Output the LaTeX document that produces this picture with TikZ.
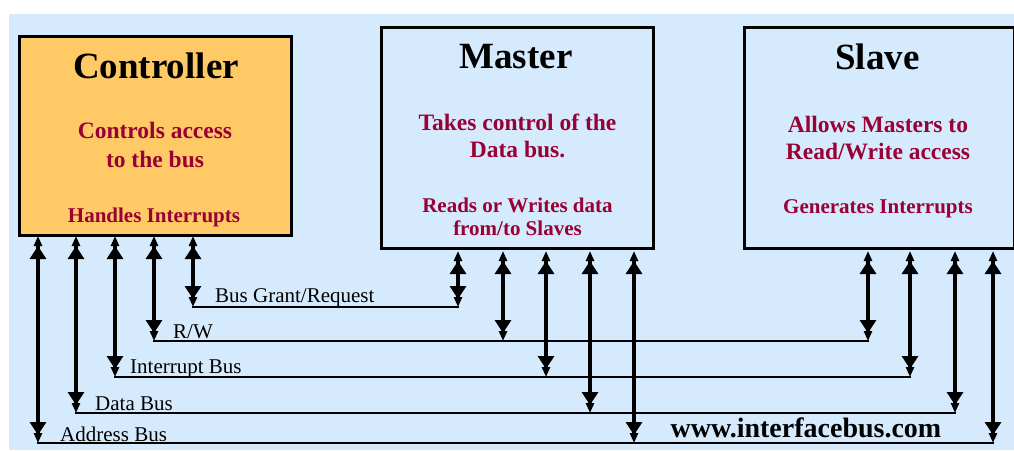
\documentclass[tikz,border=0pt]{standalone}
\usepackage{fontspec}
\setmainfont{Liberation Serif}
\usetikzlibrary{arrows.meta}

\definecolor{panel}{HTML}{D6EAFE}
\definecolor{ctrlfill}{HTML}{FFC966}
\definecolor{note}{HTML}{990033}

\tikzset{
  unitbox/.style={draw=black, line width=3pt, inner sep=0pt},
  boxtitle/.style={anchor=base, inner sep=0pt, font=\fontsize{37}{40}\selectfont\bfseries},
  roleline/.style={anchor=base, inner sep=0pt, text=note, font=\fontsize{23.5}{26}\selectfont\bfseries},
  subline/.style={anchor=base, inner sep=0pt, text=note, font=\fontsize{21}{23}\selectfont\bfseries},
  buslabel/.style={anchor=base west, inner sep=0pt, font=\fontsize{21}{23}\selectfont},
  sitelabel/.style={anchor=base, inner sep=0pt, font=\fontsize{28}{30}\selectfont\bfseries},
  % two-tier head: narrow point in front of a wide block
  tap/.style={line width=3.2pt,
    {Triangle[length=10pt,width=8pt,sep=-2pt] Triangle[length=13pt,width=16pt,sep=0pt]}-%
    {Triangle[length=13pt,width=16pt,sep=-2pt] Triangle[length=10pt,width=8pt,sep=0pt]}},
  widebus/.style={line width=2.8pt, line cap=rect},
  narrowbus/.style={line width=1.5pt, line cap=rect},
}

\begin{document}
\begin{tikzpicture}[x=1pt,y=-1pt]
  \useasboundingbox (0,0) rectangle (1014,450);
  \fill[white] (0,0) rectangle (1014,450);
  \fill[panel] (9,14) rectangle (1014,450);

  % the three units
  \node[unitbox, fill=ctrlfill, minimum width=272pt, minimum height=199pt] (ctrl) at (155,136) {};
  \node[unitbox, fill=panel, minimum width=272pt, minimum height=221pt] (master) at (517.5,138) {};
  \node[unitbox, fill=panel, minimum width=270pt, minimum height=221pt] (slave) at (879.5,138) {};

  \node[boxtitle] (ctrlT) at (156,78) {Controller};
  \node[roleline] (ctrlR1) at (155,138) {Controls access};
  \node[roleline] (ctrlR2) at (155,167) {to the bus};
  \node[subline]  (ctrlS)  at (154,222) {Handles Interrupts};

  \node[boxtitle] (masterT) at (516,68) {Master};
  \node[roleline] (masterR1) at (517.5,130) {Takes control of the};
  \node[roleline] (masterR2) at (517.5,157) {Data bus.};
  \node[subline]  (masterS1) at (517.5,212) {Reads or Writes data};
  \node[subline]  (masterS2) at (517.5,235) {from/to Slaves};

  \node[boxtitle] (slaveT) at (877.5,69) {Slave};
  \node[roleline] (slaveR1) at (878,132) {Allows Masters to};
  \node[roleline] (slaveR2) at (878,159) {Read/Write access};
  \node[subline]  (slaveS)  at (878,213) {Generates Interrupts};

  % bus taps: g = grant/request, r = R/W, i = interrupt, d = data, a = address
  \coordinate (gC) at (193,307); \coordinate (gM) at (458,307);
  \coordinate (rC) at (154,341); \coordinate (rM) at (503,341); \coordinate (rS) at (868,341);
  \coordinate (iC) at (115,377); \coordinate (iM) at (546,377); \coordinate (iS) at (910,377);
  \coordinate (dC) at (76,413);  \coordinate (dM) at (590,413); \coordinate (dS) at (955,413);
  \coordinate (aC) at (38,443);  \coordinate (aM) at (634,443); \coordinate (aS) at (993,443);

  % bus lines
  \draw[narrowbus] (gC) -- (gM);
  \draw[narrowbus] (rC) -- (rS);
  \draw[widebus] (iC) -- (iS);
  \draw[widebus] (dC) -- (dS);
  \draw[widebus] (aC) -- (aS);

  % controller taps
  \foreach \b in {gC,rC,iC,dC,aC}
    \draw[tap, shorten <=1pt] (ctrl.south -| \b) -- (\b);
  % master taps
  \foreach \b in {gM,rM,iM,dM,aM}
    \draw[tap, shorten <=3pt] (master.south -| \b) -- (\b);
  % slave taps
  \foreach \b in {rS,iS,dS,aS}
    \draw[tap, shorten <=3pt] (slave.south -| \b) -- (\b);

  % bus names
  \node[buslabel] (gL) at (215,302) {Bus Grant/Request};
  \node[buslabel] (rL) at (173,338) {R/W};
  \node[buslabel] (iL) at (130,373) {Interrupt Bus};
  \node[buslabel] (dL) at (95,410)  {Data Bus};
  \node[buslabel] (aL) at (60,441)  {Address Bus};

  \node[sitelabel] (site) at (806,437) {www.interfacebus.com};
\end{tikzpicture}
\end{document}
